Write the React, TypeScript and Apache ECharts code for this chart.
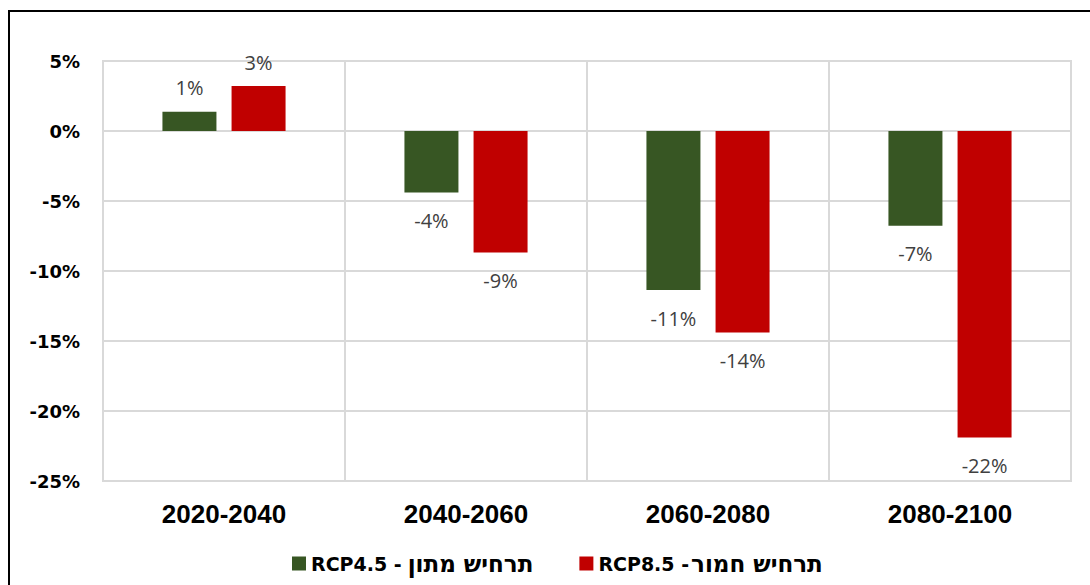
import React, { useEffect, useRef } from "react";
import * as echarts from "echarts";

const categories = ["2020-2040", "2040-2060", "2060-2080", "2080-2100"];
const moderateName = "RCP4.5 - תרחיש מתון";
const severeName = "RCP8.5 -תרחיש חמור";
const moderateValues = [1.38, -4.4, -11.36, -6.76];
const severeValues = [3.21, -8.67, -14.4, -21.9];
const yTicks = { min: -25, max: 5, interval: 5 };

const GREEN = "#375623";
const RED = "#C00000";

function toData(values: number[]) {
  return values.map((v) => ({
    value: v,
    label: {
      position: v >= 0 ? "top" : "bottom",
      distance: v >= 0 ? 14 : 18,
    },
  }));
}

function legendFormatter(name: string) {
  const i = name.search(/[\u0590-\u05FF]/);
  if (i < 0) return name;
  const raw = name.slice(0, i);
  const spaced = raw.endsWith(" ");
  const latin = raw.trimEnd();
  const heb = name.slice(i);
  return `{${spaced ? "a" : "c"}|${latin}}{b|${heb}}`;
}

export default function App() {
  const ref = useRef<HTMLDivElement>(null);
  useEffect(() => {
    if (!ref.current) return;
    const chart = echarts.init(ref.current, null, { renderer: "svg" });
    const labelStyle = {
      show: true,
      formatter: (p: any) => Math.round(p.value) + "%",
      fontFamily: "Open Sans",
      fontSize: 20,
      color: "#404040",
    };
    const latinStyle = {
      fontFamily: "DejaVu Sans",
      fontWeight: "bold",
      fontSize: 19,
      color: "#000",
    };
    chart.setOption({
      animation: false,
      backgroundColor: "#ffffff",
      grid: {
        left: 103,
        top: 61,
        right: 19,
        bottom: 104,
        show: true,
        borderColor: "#d9d9d9",
        borderWidth: 2,
      },
      graphic: [
        {
          type: "line",
          shape: { x1: 8, y1: 11, x2: 1090, y2: 11 },
          style: { stroke: "#000", lineWidth: 2 },
        },
        {
          type: "line",
          shape: { x1: 9, y1: 11, x2: 9, y2: 585 },
          style: { stroke: "#000", lineWidth: 2 },
        },
      ],
      legend: {
        bottom: 5,
        left: 287,
        itemWidth: 14,
        itemHeight: 14,
        itemGap: 46,
        icon: "rect",
        formatter: legendFormatter,
        textStyle: {
          fontFamily: "DejaVu Sans",
          fontWeight: "bold",
          fontSize: 19,
          color: "#000",
          rich: {
            a: { ...latinStyle, padding: [0, 6, 0, 0] },
            c: { ...latinStyle, padding: [0, 2, 0, 0] },
            b: {
              fontFamily: "DejaVu Sans",
              fontWeight: "bold",
              fontSize: 23,
              color: "#000",
            },
          },
        },
        data: [moderateName, severeName],
      },
      xAxis: {
        type: "category",
        data: categories,
        boundaryGap: true,
        axisLine: { show: false },
        axisTick: { show: false },
        splitLine: {
          show: true,
          interval: 0,
          lineStyle: { color: "#d9d9d9", width: 2 },
        },
        axisLabel: {
          fontFamily: "Liberation Sans",
          fontWeight: "bold",
          fontSize: 26,
          color: "#000",
          margin: 20,
        },
      },
      yAxis: {
        type: "value",
        min: yTicks.min,
        max: yTicks.max,
        interval: yTicks.interval,
        axisLine: { show: false },
        axisTick: { show: false },
        splitLine: { lineStyle: { color: "#d9d9d9", width: 2 } },
        axisLabel: {
          formatter: "{value}%",
          fontFamily: "DejaVu Sans",
          fontWeight: "bold",
          fontSize: 18,
          color: "#000",
          margin: 23,
        },
      },
      series: [
        {
          name: moderateName,
          type: "bar",
          data: toData(moderateValues),
          barWidth: 54,
          barGap: "28%",
          itemStyle: { color: GREEN },
          label: labelStyle,
        },
        {
          name: severeName,
          type: "bar",
          data: toData(severeValues),
          barWidth: 54,
          barGap: "28%",
          itemStyle: { color: RED },
          label: labelStyle,
        },
      ],
    });
    return () => chart.dispose();
  }, []);
  return (
    <div
      ref={ref}
      style={{ position: "absolute", left: 0, top: 0, width: 1090, height: 585 }}
    />
  );
}
